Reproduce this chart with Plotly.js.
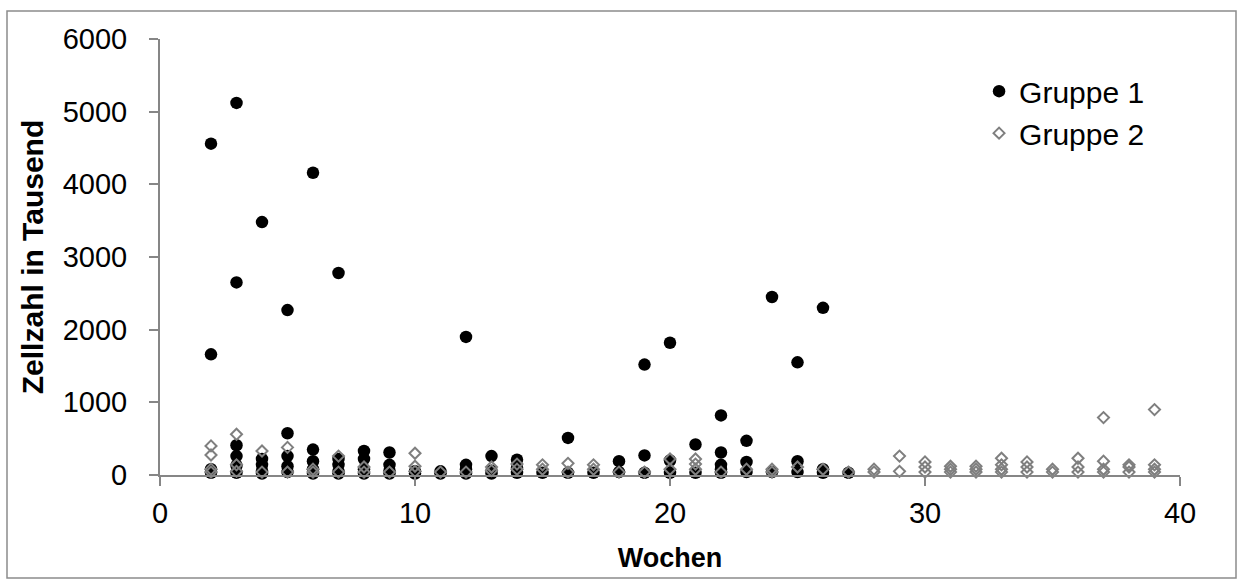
<!DOCTYPE html>
<html>
<head>
<meta charset="utf-8">
<script src="https://cdn.plot.ly/plotly-3.0.1.min.js"></script>
<style>html,body{margin:0;padding:0;background:#fff;}#chart{width:1244px;height:581px;}</style>
</head>
<body>
<div id="chart"></div>
<script>
// Gruppe 1 (black circles): week, value (Zellzahl in Tausend)
const g1Weeks = [2,2,2,2, 3,3,3,3,3,3, 4,4,4,4,4, 5,5,5,5,5, 6,6,6,6,6, 7,7,7,7,7, 8,8,8,8, 9,9,9,9, 10,10, 11,11, 12,12,12,12, 13,13,13, 14,14,14, 15, 16,16, 17, 18,18, 19,19,19, 20,20,20, 21,21, 22,22,22,22,22, 23,23,23, 24,24, 25,25,25, 26,26,26, 27];
const g1Values = [4560,1660,80,30, 5120,2650,410,260,130,30, 3480,220,140,60,20, 2270,575,260,120,40, 4160,350,190,80,20, 2780,220,140,50,20, 330,220,80,20, 310,140,60,20, 50,20, 50,20, 1900,140,80,20, 260,60,20, 210,100,30, 30, 510,30, 30, 190,40, 1520,270,30, 1820,200,30, 420,30, 820,310,140,80,30, 470,180,40, 2450,40, 1550,190,40, 2300,80,30, 30];

// Gruppe 2 (grey open diamonds)
const g2Weeks = [2,2,2,2, 3,3,3, 4,4, 5,5, 6,6, 7,7, 8,8, 9, 10,10,10, 11, 12, 13,13, 14,14, 15,15, 16,16, 17,17, 18, 19, 20,20, 21,21,21, 22, 23, 24,24, 25, 26, 27, 28,28, 29,29, 30,30,30, 31,31,31, 32,32,32, 33,33,33,33, 34,34,34, 35,35, 36,36,36, 37,37,37,37, 38,38,38, 39,39,39,39];
const g2Values = [400,275,80,40, 560,140,50, 330,40, 380,40, 80,40, 260,40, 110,40, 40, 300,120,50, 40, 40, 110,60, 150,80, 140,80, 160,40, 140,80, 40, 40, 220,80, 220,150,80, 40, 80, 80,40, 110, 80, 40, 80,40, 260,50, 180,110,40, 120,80,40, 120,80,40, 230,140,80,40, 180,110,40, 80,40, 230,110,40, 790,190,80,40, 140,110,40, 900,140,80,40];

const seriesNames = ["Gruppe 1", "Gruppe 2"];
const xTicks = [0, 10, 20, 30, 40];
const yTicks = [0, 1000, 2000, 3000, 4000, 5000, 6000];

const axisGrey = "#868686";
const fontFam = "Liberation Sans, Arial, sans-serif";

const traces = [
  {
    type: "scatter", mode: "markers", name: seriesNames[0],
    x: g1Weeks, y: g1Values,
    marker: {symbol: "circle", size: 12.5, color: "#000000", line: {width: 0}},
    cliponaxis: false
  },
  {
    type: "scatter", mode: "markers", name: seriesNames[1],
    x: g2Weeks, y: g2Values,
    marker: {symbol: "diamond-open", size: 8.5, color: "#7f7f7f", line: {width: 2, color: "#7f7f7f"}},
    cliponaxis: false
  }
];

const layout = {
  width: 1244, height: 581,
  margin: {l: 160, r: 64, t: 39, b: 106},
  paper_bgcolor: "#ffffff", plot_bgcolor: "#ffffff",
  font: {family: fontFam, color: "#000000"},
  showlegend: true,
  legend: {
    x: 0.803, y: 0.94, xanchor: "left", yanchor: "top",
    font: {size: 30, family: fontFam, color: "#000"},
    bgcolor: "rgba(0,0,0,0)", borderwidth: 0,
    tracegroupgap: 0, itemwidth: 30
  },
  xaxis: {
    range: [0, 40], tickvals: xTicks, ticktext: xTicks.map(String),
    showline: true, linecolor: axisGrey, linewidth: 2,
    ticks: "outside", ticklen: 9, tickwidth: 2, tickcolor: axisGrey,
    showgrid: false, zeroline: false,
    tickfont: {size: 29, family: fontFam, color: "#000"},
    ticklabelstandoff: 2,
    title: {text: "Wochen", font: {size: 27, family: fontFam, color: "#000", weight: "bold"}, standoff: 20},
    automargin: false
  },
  yaxis: {
    range: [0, 6000], tickvals: yTicks, ticktext: yTicks.map(String),
    showline: true, linecolor: axisGrey, linewidth: 2,
    ticks: "outside", ticklen: 9, tickwidth: 2, tickcolor: axisGrey,
    showgrid: false, zeroline: false,
    tickfont: {size: 29, family: fontFam, color: "#000"},
    ticklabelstandoff: 16,
    title: {text: "Zellzahl in Tausend", font: {size: 30, family: fontFam, color: "#000", weight: "bold"}, standoff: 10},
    automargin: false
  },
  shapes: [{
    type: "rect", xref: "paper", yref: "paper",
    x0: (7 - 160) / 1020, x1: (1236 - 160) / 1020,
    y0: (475 - 578) / 436, y1: (475 - 11) / 436,
    line: {color: "#8c8c8c", width: 1.5}, fillcolor: "rgba(0,0,0,0)", layer: "below"
  }]
};

Plotly.newPlot("chart", traces, layout, {displayModeBar: false, staticPlot: true});
</script>
</body>
</html>
